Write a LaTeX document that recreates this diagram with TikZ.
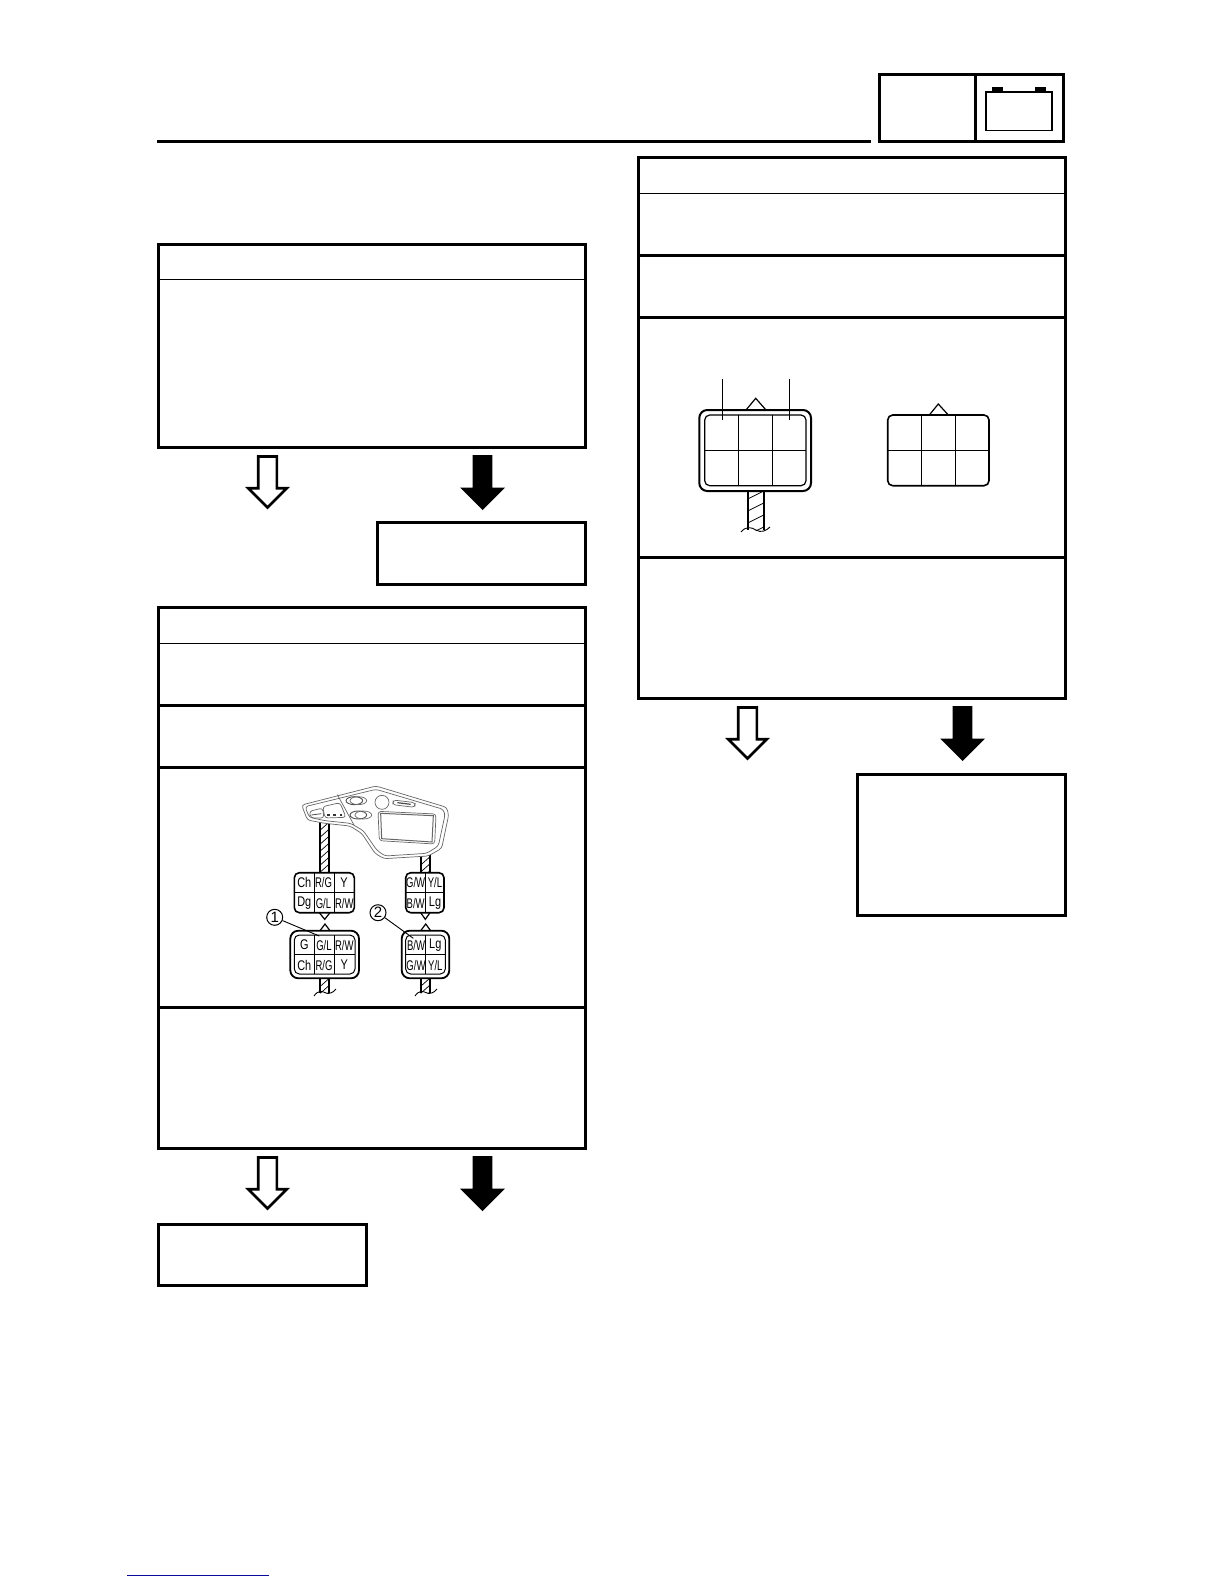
\documentclass[tikz,border=0pt]{standalone}
\usepackage{fontspec}
\usetikzlibrary{shapes.arrows}
\newfontfamily\pinwide[FakeStretch=0.78]{Liberation Sans}
\newfontfamily\pinslim[FakeStretch=0.68]{Liberation Sans}
\definecolor{linkblue}{HTML}{0A0A9C}
% wire with hatching: [spacing] x left, x right, y top, y bottom
\newcommand{\wirerun}[5][7]{
    \begin{scope}
        \clip (#2,#4) rectangle (#3,#5);
        \foreach \k in {-1,...,7}
            \draw[hatch] (#2,{#4+\k*#1+8}) -- (#3,{#4+\k*#1});
    \end{scope}
    \draw[wireside] (#2,#4) -- (#2,#5);
    \draw[wireside] (#3,#4) -- (#3,#5);
}
\begin{document}
\begin{tikzpicture}[
    x=0.5pt, y=-0.5pt,
    flowbox/.style={rectangle, draw=black, line width=1.5pt, fill=white,
        anchor=north west, inner sep=0pt, outer sep=0pt},
    thinrule/.style={line width=0.6pt},
    thickrule/.style={line width=1.5pt},
    hollowarrow/.style={single arrow, draw=black, line width=1.3pt, fill=white,
        shape border rotate=270, anchor=tail, inner sep=0pt, outer sep=0pt,
        text width=8pt, single arrow head extend=5pt, minimum height=25.5pt},
    solidarrow/.style={single arrow, fill=black,
        shape border rotate=270, anchor=tail, inner sep=0pt, outer sep=0pt,
        text width=9.5pt, single arrow head extend=6.25pt, minimum height=27.5pt},
    plugbody/.style={rectangle, draw=black, line width=0.8pt, rounded corners=2.5pt,
        inner sep=0pt, outer sep=0pt},
    plugshell/.style={rectangle, draw=black, line width=0.9pt, rounded corners=4pt,
        inner sep=0pt, outer sep=0pt},
    gridline/.style={line width=0.5pt},
    keytab/.style={line width=0.6pt},
    hatch/.style={line width=0.35pt},
    wireside/.style={line width=0.9pt},
    leader/.style={line width=0.45pt},
    pinbig/.style={font=\pinwide\fontsize{7}{7}\selectfont, inner sep=0pt},
    pinsmall/.style={font=\pinslim\fontsize{7}{7}\selectfont, inner sep=0pt},
    callout/.style={circle, draw=black, line width=0.5pt, minimum size=8pt, inner sep=0pt,
        font=\fontspec{Liberation Sans}\fontsize{7.5}{7.5}\selectfont},
    panel/.style={draw=black!60, line width=0.35pt, rounded corners=1.5pt}
]
    \useasboundingbox (0,0) rectangle (1224,1584);

    % header
    \draw[thickrule] (157,141.5) -- (870.5,141.5);
    \node[flowbox, minimum width=92pt, minimum height=33.25pt] (tabbox) at (879.5,75) {};
    \draw[thickrule] (tabbox.north west -| 975.5,0) -- (tabbox.south west -| 975.5,0);
    \node[flowbox, line width=0.8pt, minimum width=32.85pt, minimum height=19.2pt] (battery) at (986,92.3) {};
    \fill (992,87) rectangle (1003.3,92.3);
    \fill (1035,87) rectangle (1046,92.3);

    % left column
    \node[flowbox, minimum width=213.25pt, minimum height=101.5pt] (stepa) at (158.5,244.5) {};
    \draw[thinrule] (stepa.west |- 0,279.5) -- (stepa.east |- 0,279.5);
    \node[hollowarrow] (oka) at (267.5,456.5) {};
    \node[solidarrow] (nga) at (482.5,455) {};
    \node[flowbox, minimum width=103.75pt, minimum height=31pt] (fixa) at (377.5,522.5) {};

    \node[flowbox, minimum width=213.25pt, minimum height=270.5pt] (stepb) at (158.5,607.5) {};
    \draw[thinrule] (stepb.west |- 0,643.5) -- (stepb.east |- 0,643.5);
    \draw[thickrule] (stepb.west |- 0,705.5) -- (stepb.east |- 0,705.5);
    \draw[thickrule] (stepb.west |- 0,767.5) -- (stepb.east |- 0,767.5);
    \draw[thickrule] (stepb.west |- 0,1007.5) -- (stepb.east |- 0,1007.5);
    \node[hollowarrow] (okb) at (267.5,1157.5) {};
    \node[solidarrow] (ngb) at (482.5,1156) {};
    \node[flowbox, minimum width=104pt, minimum height=30.5pt] (fixb) at (158.5,1224.5) {};

    % right column
    \node[flowbox, minimum width=213.5pt, minimum height=270.5pt] (stepc) at (638.5,157.5) {};
    \draw[thinrule] (stepc.west |- 0,193.5) -- (stepc.east |- 0,193.5);
    \draw[thickrule] (stepc.west |- 0,255.5) -- (stepc.east |- 0,255.5);
    \draw[thickrule] (stepc.west |- 0,317.5) -- (stepc.east |- 0,317.5);
    \draw[thickrule] (stepc.west |- 0,557.5) -- (stepc.east |- 0,557.5);
    \node[hollowarrow] (okc) at (747.5,707.5) {};
    \node[solidarrow] (ngc) at (962.5,706) {};
    \node[flowbox, minimum width=104pt, minimum height=70.5pt] (fixc) at (857.5,774.5) {};

    % six pin connectors in the right column
    \draw[keytab] (746,410) -- (755.7,398.3) -- (766,410);
    \node[plugshell, line width=1pt, minimum width=55.85pt, minimum height=40.5pt] (shellc) at (755.15,450.5) {};
    \node[plugbody, line width=0.6pt, minimum width=50.65pt, minimum height=35.35pt] (sockc) at (755.35,450.35) {};
    \draw[gridline] (sockc.west) -- (sockc.east);
    \foreach \x in {738.3,772.3}
        \draw[gridline] (sockc.north -| \x,0) -- (sockc.south -| \x,0);
    \wirerun[12]{747.7}{763.7}{491}{530}
    \draw[leader] (741,532) .. controls (746,526) and (751,527) .. (756,530)
        .. controls (761,533) and (766,531) .. (770,527);
    \coordinate (pinc) at (722.7,420);
    \coordinate (pind) at (789.3,420);
    \draw[leader] (722.7,379) -- (pinc);
    \draw[leader] (789.3,379) -- (pind);

    \draw[keytab] (929.3,415) -- (938.3,404) -- (948.3,415);
    \node[plugbody, minimum width=50.65pt, minimum height=35.35pt] (plugc) at (938.35,450.35) {};
    \draw[gridline] (plugc.west) -- (plugc.east);
    \foreach \x in {921.7,955.7}
        \draw[gridline] (plugc.north -| \x,0) -- (plugc.south -| \x,0);

    % meter
    \wirerun{320.3}{329.3}{822}{872.7}
    \wirerun{420.7}{429.7}{850}{872.7}
    \begin{scope}[shift={(260,770)}, scale=0.33333]
        \draw[panel, fill=white] (125,105) -- (348,48) -- (560,112) -- (566,135) -- (545,235)
            -- (505,258) -- (372,266) -- (345,250) -- (305,190) -- (270,168)
            -- (195,160) -- (142,150) -- cycle;
        \draw[panel] (135,110) -- (348,58) -- (550,118) -- (555,135) -- (535,228)
            -- (500,250) -- (375,258) -- (350,240) -- (310,182) -- (272,160)
            -- (195,152) -- (148,142) -- cycle;
        \draw[panel] (232,74) -- (282,165);
        \draw[panel] (188,110) -- (240,98) -- (258,142) -- (195,144) -- cycle;
        \draw[panel] (148,124) -- (188,114) -- (192,144) -- (152,144) -- cycle;
        \draw[black!70, line width=0.45pt] (283,92) ellipse (25 and 12);
        \draw[panel] (295,92) ellipse (25 and 12);
        \draw[black!70, line width=0.45pt] (295,135) ellipse (25 and 12);
        \draw[panel] (310,135) ellipse (25 and 12);
        \draw[panel] (366,97) circle (21);
        \draw[panel] (400,90) -- (466,98) -- (464,112) -- (398,104) -- cycle;
        \draw[black!70, line width=0.6pt] (412,98) -- (452,103);
        \draw[panel] (354,124) -- (528,132) -- (524,222) -- (358,212) -- cycle;
        \draw[black!60, line width=0.5pt] (362,130) -- (520,137) -- (516,216) -- (365,206) -- cycle;
        \foreach \x in {202,220,240}
            \fill[black!80] (\x,131) rectangle (\x+7,139);
        \draw[black!70, line width=0.4pt] (154,135) -- (184,131);
    \end{scope}

    % plugs on the meter side
    \node[plugbody, minimum width=30pt, minimum height=20pt] (pluga) at (324.3,892.7) {};
    \draw[gridline] (pluga.west) -- (pluga.east);
    \foreach \x in {314.3,334.3}
        \draw[gridline] (pluga.north -| \x,0) -- (pluga.south -| \x,0);
    \draw[keytab] (319.3,912.7) -- (324.7,919.3) -- (330,912.7);
    \foreach \x/\y/\t [count=\n] in {304.3/882.5/Ch, 344/882.5/Y, 304.3/903.5/Dg}
        \node[pinbig] (pa\n) at (\x,\y) {\t};
    \foreach \x/\y/\t [count=\n] in {323.5/882.5/R\slash G, 323.5/903.5/G\slash L, 344.3/903.5/R\slash W}
        \node[pinsmall] (qa\n) at (\x,\y) {\t};

    \node[plugbody, minimum width=19.15pt, minimum height=20pt] (plugb) at (424.85,892.7) {};
    \draw[gridline] (plugb.west) -- (plugb.east);
    \draw[gridline] (plugb.north -| 425.7,0) -- (plugb.south -| 425.7,0);
    \draw[keytab] (420.7,912.7) -- (425.3,919.3) -- (430,912.7);
    \node[pinbig] (pb1) at (435,903.5) {Lg};
    \foreach \x/\y/\t [count=\n] in {415.7/882.5/G\slash W, 435/882.5/Y\slash L, 415.7/903.5/B\slash W}
        \node[pinsmall] (qb\n) at (\x,\y) {\t};

    % sockets on the harness side
    \draw[keytab] (320,930.7) -- (325,924) -- (330,930.7);
    \node[plugshell, minimum width=34.35pt, minimum height=23.8pt] (socka) at (324.65,954.5) {};
    \node[plugbody, line width=0.5pt, minimum width=30.35pt, minimum height=19.5pt] (innera) at (324.65,954.5) {};
    \draw[gridline] (innera.west) -- (innera.east);
    \foreach \x in {314.3,334.3}
        \draw[gridline] (innera.north -| \x,0) -- (innera.south -| \x,0);
    \foreach \x/\y/\t [count=\n] in {304.3/945/G, 304.3/965/Ch, 344.3/965/Y}
        \node[pinbig] (pc\n) at (\x,\y) {\t};
    \foreach \x/\y/\t [count=\n] in {324/945/G\slash L, 344.3/945/R\slash W, 324/965/R\slash G}
        \node[pinsmall] (qc\n) at (\x,\y) {\t};
    \wirerun{320.3}{329.3}{978.3}{993}
    \draw[leader] (314,996) .. controls (318,990) and (322,991) .. (326,993)
        .. controls (329,994) and (333,993) .. (336,989);

    \draw[keytab] (420.7,930.7) -- (425.7,924) -- (430.7,930.7);
    \node[plugshell, minimum width=23.8pt, minimum height=23.8pt] (sockb) at (425.5,954.5) {};
    \node[plugbody, line width=0.5pt, minimum width=19.8pt, minimum height=19.5pt] (innerb) at (425.5,954.5) {};
    \draw[gridline] (innerb.west) -- (innerb.east);
    \draw[gridline] (innerb.north -| 425.7,0) -- (innerb.south -| 425.7,0);
    \node[pinbig] (pd1) at (435.3,945) {Lg};
    \foreach \x/\y/\t [count=\n] in {416/945/B\slash W, 416/965/G\slash W, 435.3/965/Y\slash L}
        \node[pinsmall] (qd\n) at (\x,\y) {\t};
    \wirerun{420.7}{429.7}{978.3}{993}
    \draw[leader] (415,996) .. controls (419,990) and (423,991) .. (427,993)
        .. controls (430,994) and (434,993) .. (437,989);

    % callouts
    \node[callout] (numone) at (274.7,917.3) {1};
    \node[callout] (numtwo) at (378,912.7) {2};
    \coordinate (pina) at (319.3,936);
    \coordinate (pinb) at (413.3,938.3);
    \draw[leader] (numone) -- (pina);
    \draw[leader] (numtwo) -- (pinb);

    % link at the foot of the page
    \draw[linkblue, line width=0.55pt] (127,1575.3) -- (269,1575.3);
\end{tikzpicture}
\end{document}
